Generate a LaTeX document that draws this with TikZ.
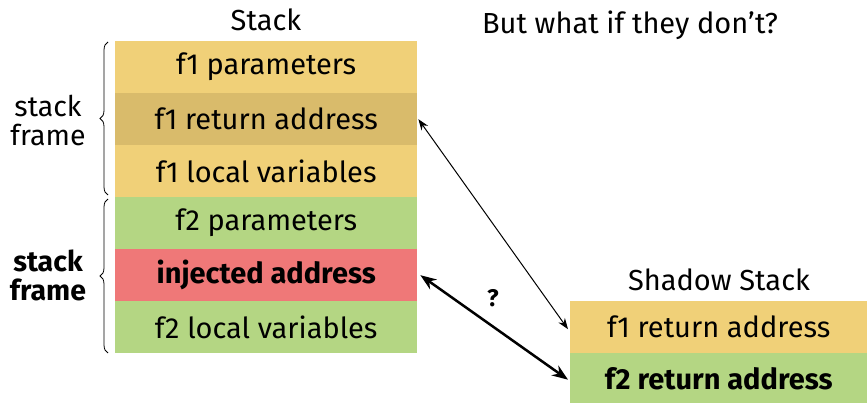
\documentclass[tikz,border=0pt]{standalone}
\usepackage{fontspec}
\setmainfont{Fira Sans}
\usetikzlibrary{arrows.meta,decorations.pathreplacing}
\definecolor{cyel}{HTML}{F0D078}
\definecolor{cdark}{HTML}{D9BB6B}
\definecolor{cgreen}{HTML}{B4D683}
\definecolor{cred}{HTML}{EF7878}
\tikzset{
  cell/.style={minimum width=302pt, minimum height=52pt, inner sep=0pt, font=\fontsize{29}{32}\selectfont, anchor=north west},
  scell/.style={minimum width=297pt, minimum height=52pt, inner sep=0pt, font=\fontsize{29}{32}\selectfont, anchor=north west},
  ttl/.style={font=\fontsize{29}{32}\selectfont, inner sep=0pt},
  brc/.style={decorate, decoration={brace, amplitude=8pt}, line width=0.8pt},
  lbl/.style={font=\fontsize{28.5}{29}\selectfont, align=center, inner sep=0pt}
}
\begin{document}
\begin{tikzpicture}[x=1pt,y=-1pt]
\useasboundingbox (0,0) rectangle (867,403);
\node[ttl] (stk) at (266,20) {Stack};
\node[ttl] (q) at (630,25) {But what if they don’t?};
\node[cell, fill=cyel] (p1) at (115,41) {f1 parameters};
\node[cell, fill=cdark] (r1) at (115,93) {f1 return address};
\node[cell, fill=cyel] (l1) at (115,145) {f1 local variables};
\node[cell, fill=cgreen] (p2) at (115,197) {f2 parameters};
\node[cell, fill=cred] (inj) at (115,249) {\bfseries injected address};
\node[cell, fill=cgreen] (l2) at (115,301) {f2 local variables};
\draw[brc] (108,195) -- (108,42);
\draw[brc] (108,353) -- (108,199);
\node[lbl] (sf1) at (48,120) {stack\\frame};
\node[lbl] (sf2) at (48,275) {\bfseries stack\\\bfseries frame};
\node[ttl] (sst) at (719,280) {Shadow Stack};
\node[scell, fill=cyel] (s1) at (570,301) {f1 return address};
\node[scell, fill=cgreen, minimum height=51pt] (s2) at (570,353) {\bfseries f2 return address};
\draw[{Stealth[length=11pt,width=8pt]}-{Stealth[length=11pt,width=8pt]}, line width=1pt] ([xshift=1pt]r1.east) -- ([xshift=-2pt,yshift=-2pt]s1.west);
\draw[{Stealth[length=16pt,width=12pt]}-{Stealth[length=16pt,width=12pt]}, line width=2.5pt] ([xshift=3pt]inj.east) -- ([xshift=-2pt,yshift=-1pt]s2.west);
\node[font=\fontsize{24}{26}\selectfont\bfseries, inner sep=0pt] (qm) at (493,298) {?};
\end{tikzpicture}
\end{document}
